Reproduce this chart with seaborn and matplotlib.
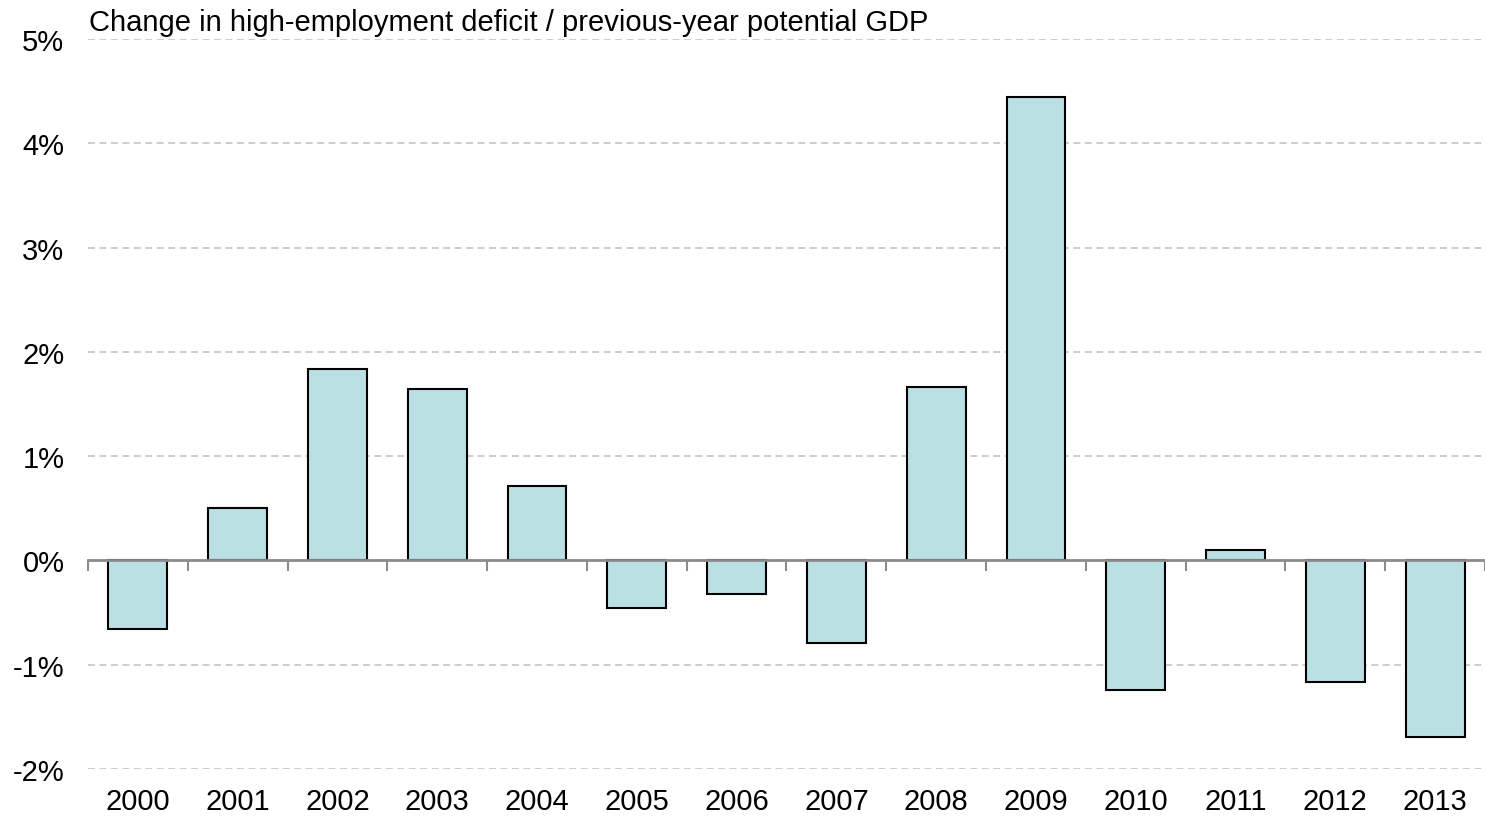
import matplotlib.pyplot as plt
import seaborn as sns
import numpy as np

# Datos
years = [str(y) for y in range(2000, 2014)]
values = [-0.66, 0.50, 1.84, 1.64, 0.71, -0.46, -0.32, -0.79,
          1.66, 4.44, -1.24, 0.10, -1.17, -1.69]
y_ticks = [-2, -1, 0, 1, 2, 3, 4, 5]
title = 'Change in high-employment deficit / previous-year potential GDP'

sns.set_style("white")
plt.rcParams['font.family'] = ['Liberation Sans', 'DejaVu Sans']

fig, ax = plt.subplots(figsize=(14.85, 8.2), dpi=100)
fig.subplots_adjust(left=88 / 1485, right=1.0, top=1 - 40 / 820, bottom=1 - 770 / 820)

sns.barplot(x=years, y=values, color='#BBE0E3', saturation=1,
            edgecolor='black', linewidth=1.5, width=0.59, ax=ax)

ax.set_xlim(-0.5, len(years) - 0.5)
ax.set_ylim(-2, 5)
ax.set_yticks(y_ticks)
ax.set_yticklabels([f'{t}%' for t in y_ticks])
ax.yaxis.grid(True, linestyle=(0, (4.5, 3)), color='#BFBFBF', linewidth=1.1)
ax.set_axisbelow(True)
for s in ax.spines.values():
    s.set_visible(False)
ax.tick_params(axis='both', length=0, labelsize=21, colors='black')
ax.tick_params(axis='y', pad=17)
ax.tick_params(axis='x', pad=13)
ax.set_xlabel('')
ax.set_ylabel('')

# Línea de cero con marcas entre categorías
zero = ax.secondary_xaxis(2 / 7)
zero.set_xticks(np.arange(-0.5, len(years), 1.0))
zero.set_xticklabels([])
zero.tick_params(direction='out', length=8, width=1.5, color='#8C8C8C')
zero.spines['bottom'].set_color('#8C8C8C')
zero.spines['bottom'].set_linewidth(2)
zero.set_zorder(3)

ax.text(0.001, 1.004, title, transform=ax.transAxes, fontsize=21,
        color='black', ha='left', va='bottom')

fig.savefig('out.png', dpi=100)
